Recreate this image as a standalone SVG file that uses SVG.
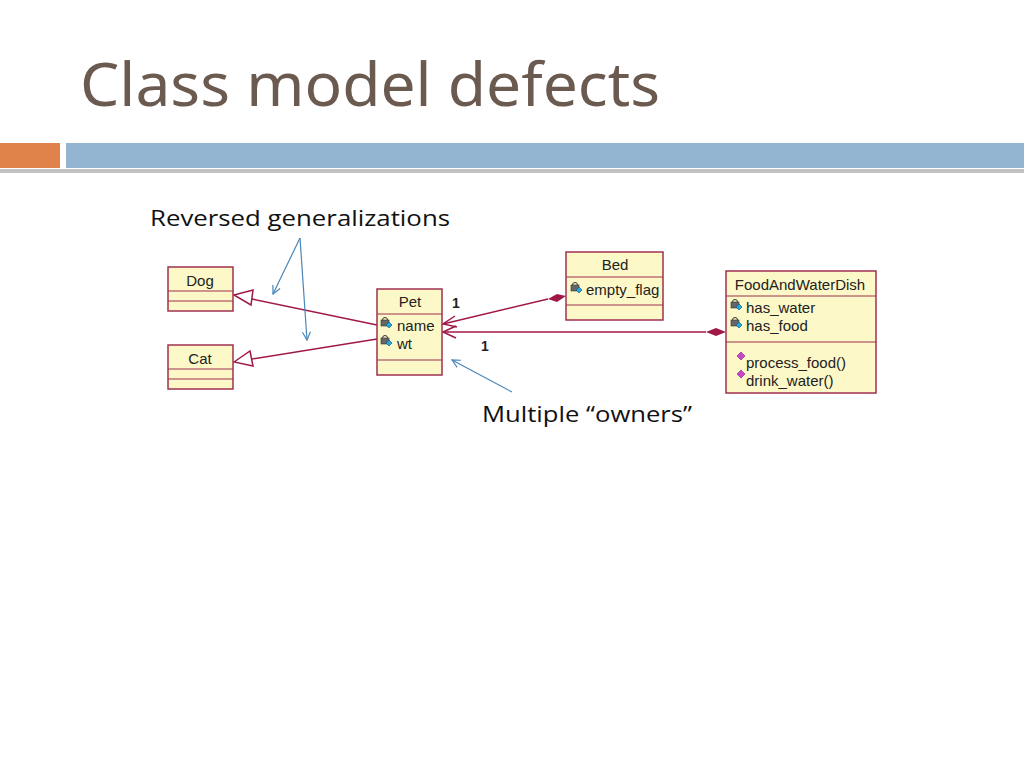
<svg xmlns="http://www.w3.org/2000/svg" width="1024" height="768" viewBox="0 0 1024 768">
<style>
.box{fill:#fdf8c8;stroke:#a03050;stroke-width:1.5}
.div{stroke:#a03050;stroke-width:1.2}
.ut{font-family:"Liberation Sans",Arial,sans-serif;font-size:15px;fill:#222}
.rel{stroke:#a01848;stroke-width:1.5;fill:none}
.blue{stroke:#4a86b8;stroke-width:1.2;fill:none}
.lab{font-family:"Open Sans","Noto Sans",sans-serif;font-size:22px;fill:#111}
.key{fill:#666;stroke:#333;stroke-width:0.6}
.att{fill:#22aadd;stroke:#114477;stroke-width:0.6}
.op{fill:#cc44cc;stroke:#772277;stroke-width:0.6}
</style>
<defs>
<marker id="ba" markerWidth="10" markerHeight="10" refX="9" refY="5" orient="auto" markerUnits="userSpaceOnUse"><path d="M1,1 L9,5 L1,9" class="blue"/></marker>
<g id="lock"><rect x="0" y="3" width="8" height="6" class="key"/><path d="M1.5,3 a2.5,2.5 0 0 1 5,0" fill="none" stroke="#333"/><path d="M5,8 l3,-3 l3,3 l-3,3z" class="att"/></g>
<path id="opic" d="M0,4 l4,-4 l4,4 l-4,4z" class="op"/>
</defs>
<rect width="1024" height="768" fill="#fff"/>
<text x="80" y="106" font-family="'Noto Sans','Open Sans',sans-serif" font-size="60" fill="#6b5a50" textLength="580" lengthAdjust="spacingAndGlyphs">Class model defects</text>
<rect x="0" y="169" width="1024" height="4" fill="#999" opacity="0.6"/>
<rect x="0" y="143" width="60" height="25" fill="#e0834a"/>
<rect x="66" y="143" width="958" height="25" fill="#93b5d1"/>
<text x="150" y="226" class="lab" textLength="300" lengthAdjust="spacingAndGlyphs">Reversed generalizations</text>
<text x="482" y="422" class="lab" textLength="210" lengthAdjust="spacingAndGlyphs">Multiple “owners”</text>
<g id="connectors">
<path class="rel" d="M377,325 L252,299"/>
<path d="M234,295 L253,290 L251,305 Z" fill="#fff" stroke="#a01848" stroke-width="1.5"/>
<path class="rel" d="M377,339 L252,359"/>
<path d="M234,362 L250,351 L253,366 Z" fill="#fff" stroke="#a01848" stroke-width="1.5"/>
<path class="rel" d="M443,324 L548,299"/>
<path d="M566,296 L557,294 L548,299 L557,302 Z" fill="#a01848"/>
<path class="rel" d="M455,316 L443,324 L457,327"/>
<path class="rel" d="M443,332 L706,332"/>
<path d="M726,332 L716,328 L706,332 L716,336 Z" fill="#a01848"/>
<path class="rel" d="M456,326 L443,332 L456,338"/>
<text x="452" y="308" font-family="'Liberation Sans',Arial,sans-serif" font-size="14" font-weight="bold" fill="#222">1</text>
<text x="481" y="351" font-family="'Liberation Sans',Arial,sans-serif" font-size="14" font-weight="bold" fill="#222">1</text>
<path class="blue" d="M300,238 L273,294" marker-end="url(#ba)"/>
<path class="blue" d="M300,238 L307,340" marker-end="url(#ba)"/>
<path class="blue" d="M512,392 L452,360" marker-end="url(#ba)"/>
</g>
<g id="dog"><rect x="168" y="267" width="65" height="44" class="box"/><line x1="168" y1="291" x2="233" y2="291" class="div"/><line x1="168" y1="301" x2="233" y2="301" class="div"/><text x="200" y="286" text-anchor="middle" class="ut">Dog</text></g>
<g id="cat"><rect x="168" y="345" width="65" height="44" class="box"/><line x1="168" y1="369" x2="233" y2="369" class="div"/><line x1="168" y1="379" x2="233" y2="379" class="div"/><text x="200" y="364" text-anchor="middle" class="ut">Cat</text></g>
<g id="pet"><rect x="377" y="289" width="65" height="86" class="box"/><line x1="377" y1="314" x2="442" y2="314" class="div"/><line x1="377" y1="360" x2="442" y2="360" class="div"/><text x="410" y="307" text-anchor="middle" class="ut">Pet</text>
<use href="#lock" x="381" y="317"/><text x="397" y="331" class="ut">name</text>
<use href="#lock" x="381" y="335"/><text x="397" y="349" class="ut">wt</text></g>
<g id="bed"><rect x="566" y="252" width="97" height="68" class="box"/><line x1="566" y1="277" x2="663" y2="277" class="div"/><line x1="566" y1="305" x2="663" y2="305" class="div"/><text x="615" y="270" text-anchor="middle" class="ut">Bed</text>
<use href="#lock" x="571" y="282"/><text x="586" y="295" class="ut">empty_flag</text></g>
<g id="dish"><rect x="726" y="271" width="150" height="122" class="box"/><line x1="726" y1="296" x2="876" y2="296" class="div"/><line x1="726" y1="342" x2="876" y2="342" class="div"/><text x="800" y="290" text-anchor="middle" class="ut">FoodAndWaterDish</text>
<use href="#lock" x="731" y="299"/><text x="746" y="313" class="ut">has_water</text>
<use href="#lock" x="731" y="317"/><text x="746" y="331" class="ut">has_food</text>
<use href="#opic" x="737" y="352"/><text x="746" y="368" class="ut">process_food()</text>
<use href="#opic" x="737" y="370"/><text x="746" y="386" class="ut">drink_water()</text></g>
</svg>
